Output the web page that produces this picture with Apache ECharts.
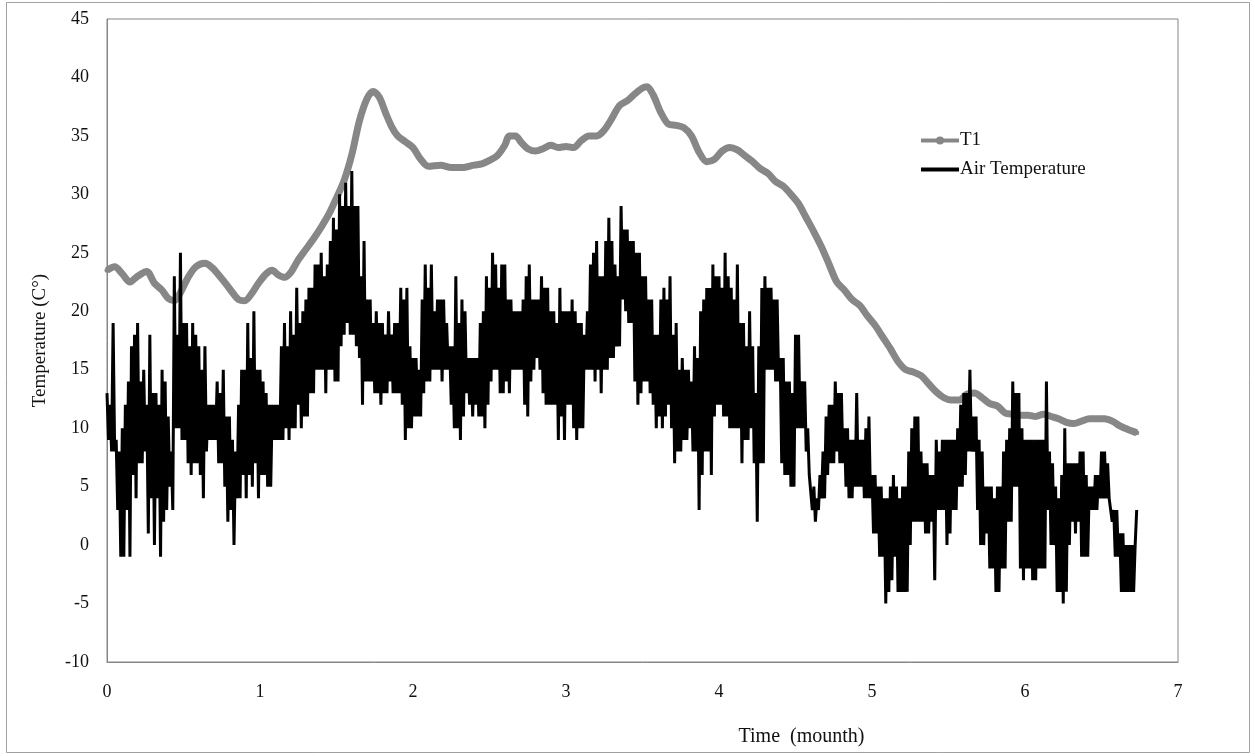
<!DOCTYPE html>
<html>
<head>
<meta charset="utf-8">
<script src="https://cdn.jsdelivr.net/npm/echarts@6/dist/echarts.min.js"></script>
<style>
html,body{margin:0;padding:0;background:#fff;}
#chart{width:1255px;height:756px;}
</style>
</head>
<body>
<div id="chart"></div>
<script>
// ---- Data ----
var xTicks = [0, 1, 2, 3, 4, 5, 6, 7];
var yTicks = [-10, -5, 0, 5, 10, 15, 20, 25, 30, 35, 40, 45];

var t1Time = [0,0.05,0.10,0.15,0.20,0.26,0.31,0.36,0.40,0.44,0.48,0.53,0.58,0.64,0.69,0.73,0.78,0.82,0.86,0.90,0.95,0.99,1.04,1.08,1.12,1.16,1.20,1.25,1.30,1.35,1.40,1.45,1.50,1.55,1.60,1.65,1.70,1.74,1.78,1.82,1.86,1.90,1.95,2.00,2.05,2.10,2.18,2.25,2.32,2.40,2.45,2.50,2.55,2.60,2.63,2.67,2.71,2.75,2.80,2.85,2.90,2.95,3.00,3.05,3.10,3.15,3.20,3.25,3.30,3.35,3.40,3.45,3.50,3.53,3.57,3.62,3.67,3.72,3.77,3.82,3.87,3.92,3.97,4.02,4.07,4.12,4.17,4.22,4.27,4.32,4.37,4.42,4.47,4.52,4.57,4.62,4.67,4.72,4.77,4.82,4.87,4.92,4.97,5.02,5.07,5.12,5.17,5.22,5.27,5.32,5.37,5.42,5.47,5.52,5.57,5.62,5.67,5.72,5.77,5.82,5.87,5.92,5.97,6.02,6.07,6.12,6.17,6.22,6.27,6.32,6.37,6.42,6.47,6.52,6.57,6.62,6.67,6.73];
var t1Values = [23.5,23.8,23.2,22.5,23.0,23.4,22.4,21.8,21.1,20.9,21.6,22.9,23.8,24.1,23.7,23.1,22.3,21.6,21.0,20.9,21.6,22.4,23.2,23.5,23.1,22.9,23.3,24.4,25.3,26.2,27.2,28.3,29.7,31.2,33.4,36.3,38.2,38.8,38.3,37.0,35.8,35.0,34.5,34.0,33.0,32.4,32.5,32.3,32.3,32.5,32.6,32.9,33.3,34.2,35.0,35.0,34.4,33.9,33.7,33.9,34.2,34.0,34.1,34.0,34.6,35.0,35.0,35.5,36.5,37.6,38.0,38.6,39.1,39.2,38.5,37.0,36.0,35.9,35.7,35.0,33.6,32.8,33.0,33.7,34.0,33.8,33.3,32.8,32.2,31.8,31.1,30.7,30.0,29.2,28.0,26.8,25.5,24.0,22.5,21.8,21.0,20.5,19.6,18.8,17.8,16.8,15.7,15.0,14.8,14.5,13.8,13.1,12.6,12.4,12.4,12.9,13.0,12.6,12.1,11.9,11.3,11.2,11.1,11.1,11.0,11.2,11.0,10.8,10.5,10.4,10.6,10.8,10.8,10.8,10.6,10.2,9.9,9.6];

// Air temperature: readings every 0.01 month, stored as pairs:
// airHigh at t = 0, 0.02, 0.04 ...; airLow at t + 0.01
var airStep = 0.02;
var airHigh = [
 13,12,19,9,8,    10,12,14,17,18,   19,14,15,12,18,   13,13,12,15,14,   11,8,23,18,25,
 19,19,17,19,18,  17,15,17,12,12,   12,14,13,15,11,   11,9,8,12,15,     15,19,16,20,15,
 15,14,13,12,12,  12,12,17,19,17,   20,18,22,19,20,   21,22,22,24,24,   25,23,24,26,28,
 27,30,29,31,29,  32,29,29,23,26,   21,21,19,20,19,   19,18,20,18,19,   19,22,21,22,17,
 16,16,15,21,24,  22,24,20,21,21,   21,19,17,17,23,   19,21,20,16,16,   16,16,19,20,23,
 22,25,24,22,24,  24,21,21,20,20,   20,21,23,24,21,   21,21,23,22,22,   20,20,19,22,20,
 20,20,21,20,19,  19,18,20,24,25,   26,23,23,26,28,   26,24,23,29,27,   27,26,26,25,25,
 23,23,21,21,18,  18,21,22,21,23,   18,19,15,16,15,   15,14,17,16,20,   21,22,22,24,23,
 23,22,25,23,22,  21,24,19,19,17,   20,17,13,17,22,   23,22,22,21,21,   16,16,14,14,13,
 18,18,14,14,10,  6,5,4,6,8,        11,12,12,14,13,   13,10,10,9,9,     13,9,9,10,11,
 6,6,5,5,4,       4,5,6,5,4,        5,5,8,10,11,      11,8,7,7,6,       6,9,8,9,9,
 9,9,9,10,12,     13,13,15,11,11,   9,8,5,5,5,        4,5,5,8,9,        10,14,13,13,10,
 9,9,9,9,9,       9,9,14,8,7,       5,4,6,10,7,       7,7,7,8,8,        6,5,5,6,6,
 8,8,7,4,3,       3,1,1,0,0,        0,0
];
var airLow = [
 9,8,8,3,-1,      -1,3,-1,6,4,      7,7,8,1,4,        0,4,-1,2,3,       5,3,10,10,9,
 9,7,6,7,7,       6,4,8,9,9,        9,7,7,5,2,        3,0,4,4,6,        4,6,5,7,4,
 6,6,5,5,9,       9,9,9,10,9,       10,10,12,10,11,   11,13,13,15,15,   15,13,15,15,14,
 14,17,18,19,18,  18,17,16,12,14,   14,14,13,13,12,   13,13,14,13,13,   13,12,9,10,10,
 11,11,11,13,14,  14,15,15,15,14,   15,15,12,10,10,   9,11,13,12,11,    12,11,11,10,12,
 14,15,15,13,13,  14,13,15,15,15,   15,12,11,14,15,   16,15,13,12,12,   12,12,9,11,9,
 12,12,10,9,10,   10,15,15,15,14,   15,13,15,15,16,   16,17,17,21,20,   19,19,14,12,13,
 14,14,13,12,10,  11,10,11,12,10,   7,8,8,9,9,        10,8,8,3,6,       8,8,6,11,12,
 12,11,11,10,10,  10,10,7,9,9,      10,7,2,7,7,       15,15,15,14,14,   7,6,6,5,5,
 10,10,10,8,6,    3,2,3,4,4,        6,7,7,8,7,        7,5,4,4,5,        5,5,4,4,4,
 1,1,-1,-1,-5,    -4,-3,-1,-4,-4,   -4,-4,0,2,2,      2,2,1,1,2,        -3,3,3,3,0,
 1,3,3,5,5,       6,8,8,8,3,        0,0,1,-2,-2,      -4,-4,-2,-2,2,    2,5,5,-2,-3,
 -2,-2,-3,-3,-2,  -2,-2,3,0,0,      -4,-4,-5,-4,0,    2,1,2,-1,-1,      -1,3,3,3,4,
 4,4,4,2,-1,      -1,-4,-4,-4,-4,   -4,3
];

// ---- Build series data ----
var t1Data = t1Time.map(function (t, i) { return [t, t1Values[i]]; });
var airData = [];
airHigh.forEach(function (v, i) {
  var t = i * airStep;
  airData.push([+t.toFixed(2), v]);
  airData.push([+(t + airStep / 2).toFixed(3), airLow[i]]);
});

var FONT = '"Liberation Serif", "Times New Roman", serif';
var chart = echarts.init(document.getElementById('chart'));
chart.setOption({
  animation: false,
  backgroundColor: '#fff',
  graphic: [{
    type: 'rect',
    shape: { x: 6.5, y: 2.5, width: 1243, height: 750 },
    style: { fill: 'none', stroke: '#a0a0a0', lineWidth: 1 },
    silent: true, z: -1
  }],
  grid: {
    left: 107, right: 77, top: 19, bottom: 94,
    show: true, borderColor: '#868686', borderWidth: 1
  },
  legend: {
    orient: 'vertical',
    left: 914, top: 126,
    itemWidth: 38, itemHeight: 10, itemGap: 10,
    textStyle: { fontFamily: FONT, fontSize: 19, color: '#111', padding: [0, 0, 0, -4] },
    data: [
      { name: 'T1', lineStyle: { width: 4, color: '#878787' } },
      { name: 'Air Temperature', lineStyle: { width: 4, color: '#000' }, itemStyle: { opacity: 0 } }
    ]
  },
  xAxis: {
    type: 'value', min: xTicks[0], max: xTicks[xTicks.length - 1], interval: 1,
    name: 'Time  (mounth)', nameLocation: 'middle', nameGap: 65,
    nameTextStyle: { fontFamily: FONT, fontSize: 20, color: '#111', padding: [0, 0, 0, 318] },
    axisLine: { show: true, onZero: false, lineStyle: { color: '#868686' } },
    axisTick: { show: false },
    splitLine: { show: false },
    axisLabel: { margin: 21, fontFamily: FONT, fontSize: 18, color: '#111' }
  },
  yAxis: {
    type: 'value', min: yTicks[0], max: yTicks[yTicks.length - 1], interval: 5,
    name: 'Temperature (C°)', nameLocation: 'middle', nameGap: 57, nameRotate: 90,
    nameTextStyle: { fontFamily: FONT, fontSize: 19, color: '#111' },
    axisLine: { show: true, onZero: false, lineStyle: { color: '#868686' } },
    axisTick: { show: false },
    splitLine: { show: false },
    axisLabel: { margin: 18, fontFamily: FONT, fontSize: 18, color: '#111' }
  },
  series: [
    {
      name: 'T1', type: 'line', data: t1Data,
      smooth: 0.3,
      symbol: 'circle', symbolSize: 5, showSymbol: true,
      itemStyle: { color: '#878787' },
      lineStyle: { color: '#878787', width: 7 },
      z: 2
    },
    {
      name: 'Air Temperature', type: 'line', data: airData,
      symbol: 'none',
      itemStyle: { color: '#000' },
      lineStyle: { color: '#000', width: 3, join: 'bevel' },
      z: 3
    }
  ]
});
</script>
</body>
</html>
